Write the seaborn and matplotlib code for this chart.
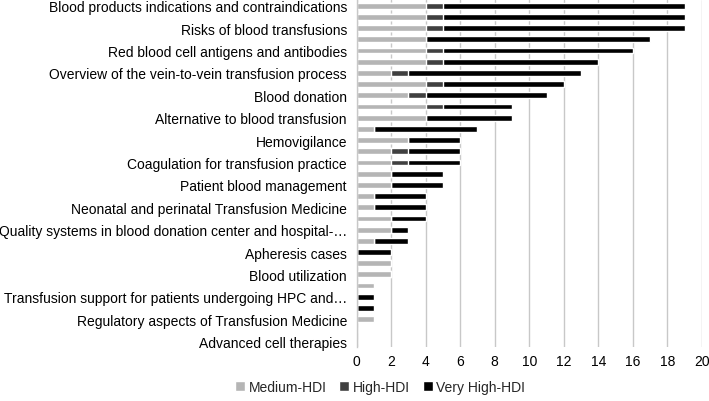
import numpy as np
import pandas as pd
import matplotlib
matplotlib.use("Agg")
import matplotlib.pyplot as plt
import seaborn as sns

# Topics shown on the axis (Excel skipped every other label; hidden ones are "")
topics = [
    "Blood products indications and contraindications", "",
    "Risks of blood transfusions", "",
    "Red blood cell antigens and antibodies", "",
    "Overview of the vein-to-vein transfusion process", "",
    "Blood donation", "",
    "Alternative to blood transfusion", "",
    "Hemovigilance", "",
    "Coagulation for transfusion practice", "",
    "Patient blood management", "",
    "Neonatal and perinatal Transfusion Medicine", "",
    "Quality systems in blood donation center and hospital-…", "",
    "Apheresis cases", "",
    "Blood utilization", "",
    "Transfusion support for patients undergoing HPC and…", "",
    "Regulatory aspects of Transfusion Medicine", "",
    "Advanced cell therapies",
]

medium_hdi = [4, 4, 4, 4, 4, 4, 2, 4, 3, 4, 4, 1, 3, 2, 2, 2, 2, 1, 1, 2, 2, 1, 0, 2, 2, 1, 0, 0, 1, 0, 0]
high_hdi = [1, 1, 1, 0, 1, 1, 1, 1, 1, 1, 0, 0, 0, 1, 1, 0, 0, 0, 0, 0, 0, 0, 0, 0, 0, 0, 0, 0, 0, 0, 0]
very_high_hdi = [14, 14, 14, 13, 11, 9, 10, 7, 7, 4, 5, 6, 3, 3, 3, 3, 3, 3, 3, 2, 1, 2, 2, 0, 0, 0, 1, 1, 0, 0, 0]

series = ["Medium-HDI", "High-HDI", "Very High-HDI"]
colors = ["#b5b5b5", "#404040", "#000000"]

df = pd.DataFrame({
    "pos": np.arange(len(topics)),
    "medium": medium_hdi,
    "high": high_hdi,
    "very": very_high_hdi,
})
df["cum_high"] = df["medium"] + df["high"]
df["total"] = df["cum_high"] + df["very"]

sns.set_style("white")
plt.rcParams["font.family"] = ["Liberation Sans", "DejaVu Sans"]

fig = plt.figure(figsize=(7.09, 4.02), dpi=100)
ax = fig.add_axes([0.503, 0.134, 0.487, 0.863])

# stacked bars: draw cumulative totals back to front
bw = 0.52
sns.barplot(data=df, x="total", y="pos", orient="h", color=colors[2], width=bw,
            saturation=1, ax=ax, label=series[2], zorder=3)
sns.barplot(data=df, x="cum_high", y="pos", orient="h", color=colors[1], width=bw,
            saturation=1, ax=ax, label=series[1], zorder=3)
sns.barplot(data=df, x="medium", y="pos", orient="h", color=colors[0], width=bw,
            saturation=1, ax=ax, label=series[0], zorder=3)

ax.set_xlim(0, 20)
ax.set_ylim(len(topics) - 0.5, -0.5)
ax.set_xticks(range(0, 21, 2))
ax.set_yticks(range(len(topics)))
ax.set_yticklabels(topics)
ax.tick_params(axis="both", length=0, labelsize=10, colors="black")
ax.tick_params(axis="x", pad=5)
ax.tick_params(axis="y", pad=7)
ax.set_xlabel("")
ax.set_ylabel("")
ax.grid(axis="x", color="#c8c8c8", linewidth=1, zorder=0)
ax.set_axisbelow(True)
for s in ["top", "right", "bottom"]:
    ax.spines[s].set_visible(False)
ax.spines["left"].set_color("#c8c8c8")
ax.spines["left"].set_linewidth(1)
ax.spines["left"].set_zorder(4)

if ax.get_legend():
    ax.get_legend().remove()
handles, labels = ax.get_legend_handles_labels()
order = [labels.index(s) for s in series]
fig.legend([handles[i] for i in order], [labels[i] for i in order],
           loc="center", bbox_to_anchor=(380 / 709, 1 - 388 / 402), ncol=3,
           frameon=False, fontsize=10, handlelength=0.75, handleheight=0.75,
           handletextpad=0.25, columnspacing=0.9)

fig.savefig("out.png", dpi=100)
